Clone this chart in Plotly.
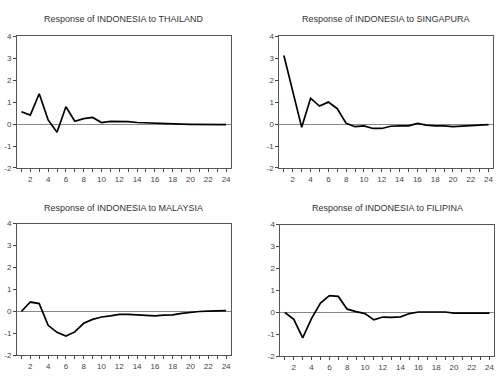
import plotly.graph_objects as go

periods = list(range(1, 25))
thailand = [0.56, 0.41, 1.38, 0.19, -0.37, 0.79, 0.13, 0.25, 0.30, 0.07, 0.12, 0.12,
            0.11, 0.07, 0.05, 0.04, 0.03, 0.02, 0.00, -0.01, -0.02, -0.02, -0.02, -0.03]
singapura = [3.12, 1.42, -0.15, 1.18, 0.82, 1.00, 0.70, 0.03, -0.12, -0.08, -0.20, -0.20,
             -0.10, -0.08, -0.08, 0.03, -0.05, -0.08, -0.08, -0.12, -0.10, -0.10, -0.07, -0.03]
malaysia = [0.00, 0.43, 0.36, -0.63, -0.95, -1.12, -0.93, -0.54, -0.36, -0.25, -0.20, -0.13,
            -0.13, -0.15, -0.20, -0.20, -0.17, -0.15, -0.09, -0.04, 0.00, 0.02, 0.04, 0.04]
filipina = [0.00, -0.31, -1.16, -0.27, 0.43, 0.77, 0.73, 0.15, 0.04, -0.05, -0.34, -0.21,
            -0.22, -0.20, -0.05, 0.02, 0.02, 0.02, 0.02, -0.03, -0.03, -0.05, -0.05, -0.03]

titles = ["Response of INDONESIA to THAILAND", "Response of INDONESIA to SINGAPURA",
          "Response of INDONESIA to MALAYSIA", "Response of INDONESIA to FILIPINA"]
series = [thailand, singapura, malaysia, filipina]
y_ticks = [-2, -1, 0, 1, 2, 3, 4]
y_ticklabels = [str(v) for v in y_ticks]
x_ticklabels = [str(p) if p % 2 == 0 else "" for p in periods]

W, H = 498, 377
boxes = [(17, 231, 33, 168), (280, 494, 33, 168), (17, 231, 225, 360), (281, 495, 226, 361)]

fig = go.Figure()
layout = dict(width=W, height=H, margin=dict(l=0, r=0, t=0, b=0),
              paper_bgcolor="white", plot_bgcolor="white", showlegend=False,
              font=dict(family="Liberation Sans, Arial, sans-serif", size=8, color="#333"))
annotations = []
for i, (ys, title, (x0, x1, y0, y1)) in enumerate(zip(series, titles, boxes)):
    n = "" if i == 0 else str(i + 1)
    fig.add_trace(go.Scatter(x=periods, y=ys, mode="lines", xaxis="x" + n, yaxis="y" + n,
                             line=dict(color="black", width=1.7), hoverinfo="skip"))
    layout["xaxis" + n] = dict(domain=[x0 / W, x1 / W], anchor="y" + n, range=[0.5, 24.5],
                               tickmode="array", tickvals=periods, ticktext=x_ticklabels,
                               ticks="outside", ticklen=3, tickcolor="#444", showgrid=False,
                               zeroline=False, showline=True, linecolor="#555", linewidth=1,
                               mirror=True, tickfont=dict(size=8, color="#444"))
    layout["yaxis" + n] = dict(domain=[1 - y1 / H, 1 - y0 / H], anchor="x" + n, range=[-2, 4],
                               tickmode="array", tickvals=y_ticks, ticktext=y_ticklabels,
                               ticks="outside", ticklen=3, tickcolor="#444", showgrid=False,
                               zeroline=True, zerolinecolor="#888", zerolinewidth=1,
                               showline=True, linecolor="#555", linewidth=1, mirror=True,
                               tickfont=dict(size=8, color="#444"))
    ty = 15 if i < 2 else 209
    annotations.append(dict(text=title, x=(x0 + x1) / 2 / W, y=1 - ty / H, xref="paper",
                            yref="paper", showarrow=False, xanchor="center", yanchor="middle",
                            font=dict(size=9, color="#333")))
layout["annotations"] = annotations
fig.update_layout(**layout)
fig.write_html("out.html")
